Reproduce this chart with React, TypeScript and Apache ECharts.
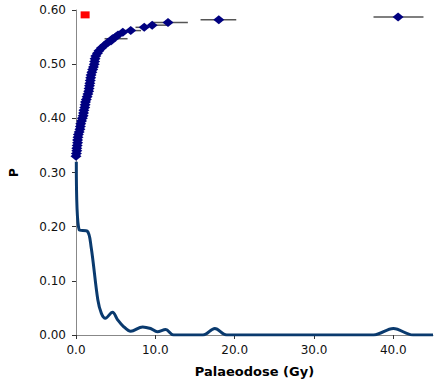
import React, { useEffect, useRef } from "react";
import * as echarts from "echarts";

// Cumulative plot points: [palaeodose (Gy), P]
const cumX = [0.0, 0.05, 0.1, 0.1, 0.15, 0.2, 0.2, 0.25, 0.3, 0.4, 0.5, 0.55, 0.6, 0.7, 0.8, 0.9, 0.95, 1.0, 1.1, 1.15, 1.2, 1.3, 1.4, 1.5, 1.6, 1.65, 1.7, 1.75, 1.8, 1.85, 1.9, 2.0, 2.1, 2.2, 2.3, 2.35, 2.4, 2.5, 2.7, 2.9, 3.2, 3.6, 4.0, 4.4, 4.6, 5.0, 5.3, 5.9, 6.9, 8.6, 9.6, 11.6, 18.0, 40.6];
const cumP = [0.330, 0.335, 0.340, 0.345, 0.350, 0.355, 0.360, 0.365, 0.370, 0.375, 0.380, 0.385, 0.390, 0.395, 0.400, 0.405, 0.410, 0.415, 0.420, 0.425, 0.430, 0.435, 0.440, 0.445, 0.450, 0.455, 0.460, 0.465, 0.470, 0.475, 0.480, 0.485, 0.490, 0.495, 0.500, 0.505, 0.510, 0.515, 0.520, 0.525, 0.530, 0.535, 0.540, 0.543, 0.547, 0.550, 0.554, 0.559, 0.562, 0.568, 0.572, 0.577, 0.582, 0.587];

// Horizontal error bars: low, high, P
const errLow = [3.6, 6.1, 7.5, 9.2, 9.6, 15.7, 37.5];
const errHigh = [6.5, 8.2, 9.2, 11.5, 14.1, 20.2, 43.8];
const errP = [0.547, 0.562, 0.568, 0.572, 0.577, 0.582, 0.587];

// Red marker
const redX = [1.15];
const redP = [0.591];

// Probability density curve
const pdfX = [0.04, 0.4, 1.4, 1.9, 2.75, 3.2, 3.7, 4.6, 5.25, 5.9, 6.9, 8.4, 9.4, 10.25, 11.3, 12.3, 16.0, 17.5, 19.0, 37.5, 40.0, 42.5, 45.0];
const pdfP = [0.32, 0.194, 0.192, 0.163, 0.065, 0.04, 0.031, 0.042, 0.028, 0.017, 0.007, 0.015, 0.012, 0.006, 0.01, 0.0, 0.0, 0.012, 0.0, 0.0, 0.012, 0.0, 0.0];

const FONT = "DejaVu Sans";

export default function App() {
  const ref = useRef<HTMLDivElement>(null);
  useEffect(() => {
    if (!ref.current) return;
    const chart = echarts.init(ref.current, null, { renderer: "svg" });
    chart.setOption({
      animation: false,
      backgroundColor: "#ffffff",
      grid: { left: 72, right: 3, top: 10, bottom: 52 },
      xAxis: {
        type: "value",
        min: 0,
        max: 45,
        interval: 10,
        name: "Palaeodose (Gy)",
        nameLocation: "middle",
        nameGap: 30,
        nameTextStyle: { fontFamily: FONT, fontWeight: "bold", fontSize: 13, color: "#000" },
        axisLine: { show: true, lineStyle: { color: "#888", width: 1 } },
        axisTick: { show: true, length: 4, lineStyle: { color: "#333" } },
        axisLabel: {
          fontFamily: FONT,
          fontSize: 12,
          color: "#111",
          margin: 9,
          showMaxLabel: false,
          formatter: (v: number) => v.toFixed(1),
        },
        splitLine: { show: false },
      },
      yAxis: {
        type: "value",
        min: 0,
        max: 0.6,
        interval: 0.1,
        name: "P",
        nameLocation: "middle",
        nameGap: 56,
        nameRotate: 90,
        nameTextStyle: { fontFamily: FONT, fontWeight: "bold", fontSize: 12, color: "#000" },
        axisLine: { show: true, lineStyle: { color: "#888", width: 1 } },
        axisTick: { show: true, length: 4, lineStyle: { color: "#333" } },
        axisLabel: {
          fontFamily: FONT,
          fontSize: 12,
          color: "#111",
          margin: 10,
          formatter: (v: number) => v.toFixed(2),
        },
        splitLine: { show: false },
      },
      series: [
        {
          type: "line",
          data: pdfX.map((x, i) => [x, pdfP[i]]),
          smooth: 0.35,
          showSymbol: false,
          symbol: "none",
          lineStyle: { color: "#0a3a6e", width: 3 },
          z: 2,
        },
        {
          type: "custom",
          data: errLow.map((l, i) => [l, errHigh[i], errP[i]]),
          encode: { x: [0, 1], y: 2 },
          renderItem: (params: any, api: any) => {
            const p1 = api.coord([api.value(0), api.value(2)]);
            const p2 = api.coord([api.value(1), api.value(2)]);
            return {
              type: "line",
              shape: { x1: p1[0], y1: p1[1], x2: p2[0], y2: p2[1] },
              style: { stroke: "#555", lineWidth: 1.5 },
            };
          },
          z: 3,
        },
        {
          type: "scatter",
          data: cumX.map((x, i) => [x, cumP[i]]),
          symbol: "diamond",
          symbolSize: [11, 9],
          itemStyle: { color: "#000080", opacity: 1 },
          z: 4,
        },
        {
          type: "scatter",
          data: redX.map((x, i) => [x, redP[i]]),
          symbol: "rect",
          symbolSize: [9, 7],
          itemStyle: { color: "#ff0000", opacity: 1 },
          z: 5,
        },
      ],
    });
    return () => chart.dispose();
  }, []);
  return <div ref={ref} style={{ position: "absolute", left: 0, top: 0, width: 436, height: 387 }} />;
}
